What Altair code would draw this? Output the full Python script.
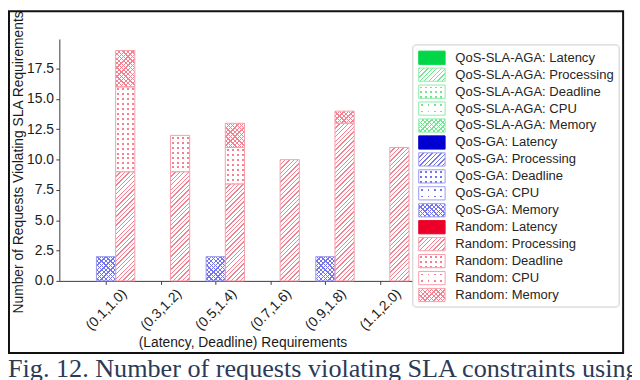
import altair as alt

# ---------------- data ----------------
categories = ["(0.1,1.0)", "(0.3,1.2)", "(0.5,1.4)", "(0.7,1.6)", "(0.9,1.8)", "(1.1,2.0)"]
models = ["QoS-SLA-AGA", "QoS-GA", "Random"]
req_types = ["Latency", "Processing", "Deadline", "CPU", "Memory"]

aga_latency = [0, 0, 0, 0, 0, 0]
aga_processing = [0, 0, 0, 0, 0, 0]
aga_deadline = [0, 0, 0, 0, 0, 0]
aga_cpu = [0, 0, 0, 0, 0, 0]
aga_memory = [0, 0, 0, 0, 0, 0]

ga_latency = [0, 0, 0, 0, 0, 0]
ga_processing = [0, 0, 0, 0, 0, 0]
ga_deadline = [0, 0, 0, 0, 0, 0]
ga_cpu = [0, 0, 0, 0, 0, 0]
ga_memory = [2, 0, 2, 0, 2, 0]

rnd_latency = [0, 0, 0, 0, 0, 0]
rnd_processing = [9, 9, 8, 10, 13, 11]
rnd_deadline = [7, 3, 3, 0, 0, 0]
rnd_cpu = [0, 0, 0, 0, 0, 0]
rnd_memory = [3, 0, 2, 0, 1, 0]

y_ticks = [0, 2.5, 5, 7.5, 10, 12.5, 15, 17.5]
x_title = "(Latency, Deadline) Requirements"
y_title = "Number of Requests Violating SLA Requirements"
caption = "Fig. 12. Number of requests violating SLA constraints using"

series = {
    "QoS-SLA-AGA": [aga_latency, aga_processing, aga_deadline, aga_cpu, aga_memory],
    "QoS-GA": [ga_latency, ga_processing, ga_deadline, ga_cpu, ga_memory],
    "Random": [rnd_latency, rnd_processing, rnd_deadline, rnd_cpu, rnd_memory],
}

# ---------------- styles ----------------
solid_color = {"QoS-SLA-AGA": "#00d647", "QoS-GA": "#0000d2", "Random": "#ea0029"}
hatch_color = {"QoS-SLA-AGA": "#6fe68f", "QoS-GA": "#7474ee", "Random": "#f5808f"}
edge_color = {"QoS-SLA-AGA": "#8eeca7", "QoS-GA": "#9a9af2", "Random": "#f7a0ac"}
WHITE = "#ffffff"
CLEAR = "rgba(255,255,255,0)"
TINY = 0.000001  # a zero gradient end-point would be replaced by the default

W, H = 371, 245
X_DOMAIN = [-0.8516, 5.8284]
Y_DOMAIN = [0, 19.95]
BAR = 0.35
PX_X = W / (X_DOMAIN[1] - X_DOMAIN[0])
PX_Y = H / (Y_DOMAIN[1] - Y_DOMAIN[0])


# ---------------- hatch patterns as linear gradients ----------------
def bands(L, period, lw, line, bg, phase=0.0):
    segs = []
    s = phase - period
    while s < L:
        for a, b, col in ((s, s + lw, line), (s + lw, s + period, bg)):
            a2, b2 = max(a, 0.0), min(b, L)
            if b2 > a2:
                segs.append((a2, b2, col))
        s += period
    stops = []
    for a, b, col in segs:
        stops.append({"offset": round(a / L, 5), "color": col})
        stops.append({"offset": round(b / L, 5), "color": col})
    return stops


def grad(x1, y1, x2, y2, stops):
    return {"gradient": "linear", "x1": x1, "y1": y1, "x2": x2, "y2": y2, "stops": stops}


def diag_up(w, h, period, lw, line, bg):
    L = w + h
    a = L * w / (w * w + h * h)
    return grad(0, 0, a, a * h / w, bands(L, period, lw, line, bg))


def diag_down(w, h, period, lw, line, bg):
    L = w + h
    a = L * w / (w * w + h * h)
    return grad(0, 1, a, 1 - a * h / w, bands(L, period, lw, line, bg, period / 2))


def horiz(w, h, period, lw, line, bg):
    return grad(0, 0, TINY, 1, bands(h, period, lw, line, bg, period / 2 - lw / 2))


def vert(w, h, period, lw, line, bg):
    return grad(0, 0, 1, 0, bands(w, period, lw, line, bg, period / 2 - lw / 2))


def pattern(model, kind, w, h):
    c = hatch_color[model]
    if kind == "Latency":
        return solid_color[model], CLEAR, solid_color[model]
    if kind == "Processing":
        return diag_up(w, h, 4.5, 1.4, c, WHITE), CLEAR, edge_color[model]
    if kind == "Deadline":
        return horiz(w, h, 5.0, 2.0, c, WHITE), vert(w, h, 5.0, 2.0, CLEAR, WHITE), edge_color[model]
    if kind == "CPU":
        return horiz(w, h, 6.5, 1.5, c, WHITE), vert(w, h, 6.5, 1.5, CLEAR, WHITE), edge_color[model]
    return diag_up(w, h, 4.5, 1.3, c, WHITE), diag_down(w, h, 4.5, 1.3, c, CLEAR), edge_color[model]


# ---------------- bar table ----------------
bar_rows = []
for mi, m in enumerate(models):
    for ci, _ in enumerate(categories):
        base = 0
        for ti, t in enumerate(req_types):
            v = series[m][ti][ci]
            if v > 0:
                center = ci + (mi - 1) * BAR
                g1, g2, edge = pattern(m, t, BAR * PX_X, v * PX_Y)
                bar_rows.append({
                    "xa": center - BAR / 2, "xb": center + BAR / 2,
                    "y0": base, "y1": base + v,
                    "g1": g1, "g2": g2, "edge": edge,
                })
            base += v

# ---------------- legend table ----------------
SW_W, SW_H = 26.7, 13.4
leg_rows = []
for mi, m in enumerate(models):
    for ti, t in enumerate(req_types):
        li = mi * len(req_types) + ti
        g1, g2, edge = pattern(m, t, SW_W, SW_H)
        leg_rows.append({"li": li, "ya": li - 0.39, "yb": li + 0.39,
                         "label": f"{m}: {t}", "g1": g1, "g2": g2, "edge": edge})

label_expr = "[" + ",".join(f"'{c}'" for c in categories) + "][datum.value]"

x_scale = alt.Scale(domain=X_DOMAIN, nice=False, zero=False)
y_scale = alt.Scale(domain=Y_DOMAIN, nice=False, zero=False)

x_axis = alt.Axis(
    values=list(range(len(categories))), labelExpr=label_expr,
    labelAngle=-45, labelAlign="center", labelBaseline="middle",
    labelPadding=25.5, tickSize=3.5, labelOverlap=False, labelFlush=False,
    title=x_title, titleY=66, titleBaseline="alphabetic", orient="bottom")
y_axis = alt.Axis(
    values=y_ticks, tickCount=len(y_ticks), format=".1f", tickSize=3.5, labelPadding=2.5,
    labelOverlap=False, labelFlush=False,
    title=y_title, titleX=-37.5, titleY=124.5, titleBaseline="alphabetic",
    titleAlign="center", orient="left")

bar_data = alt.Data(values=bar_rows)

bars_base = alt.Chart(bar_data).mark_rect().encode(
    x=alt.X("xa:Q", scale=x_scale, axis=x_axis),
    x2="xb:Q",
    y=alt.Y("y0:Q", scale=y_scale, axis=y_axis),
    y2="y1:Q",
    fill=alt.Fill("g1:N", scale=None),
)

bars_over = alt.Chart(bar_data).mark_rect(strokeWidth=1).encode(
    x=alt.X("xa:Q", scale=x_scale, axis=x_axis),
    x2="xb:Q",
    y=alt.Y("y0:Q", scale=y_scale, axis=None),
    y2="y1:Q",
    fill=alt.Fill("g2:N", scale=None),
    stroke=alt.Stroke("edge:N", scale=None),
)

one = alt.Data(values=[{}])
leg_data = alt.Data(values=leg_rows)
leg_scale = alt.Scale(domain=[0, 14], range=[19, 259.3], nice=False, zero=False)

leg_frame = alt.Chart(one).mark_rect(fill="white", stroke="#cccccc", strokeWidth=1,
                                     cornerRadius=3).encode(
    x=alt.value(358), x2=alt.value(567), y=alt.value(6), y2=alt.value(271.5))

leg_sw1 = alt.Chart(leg_data).mark_rect().encode(
    x=alt.value(364), x2=alt.value(390.7),
    y=alt.Y("ya:Q", scale=leg_scale, axis=None), y2="yb:Q",
    fill=alt.Fill("g1:N", scale=None))

leg_sw2 = alt.Chart(leg_data).mark_rect(strokeWidth=1).encode(
    x=alt.value(364), x2=alt.value(390.7),
    y=alt.Y("ya:Q", scale=leg_scale, axis=None), y2="yb:Q",
    fill=alt.Fill("g2:N", scale=None),
    stroke=alt.Stroke("edge:N", scale=None))

leg_text = alt.Chart(leg_data).mark_text(
    align="left", baseline="middle", font="Liberation Sans", fontSize=13.2,
    color="#262626").encode(
    x=alt.value(401), y=alt.Y("li:Q", scale=leg_scale, axis=None), text="label:N")

frame = alt.Chart(one).mark_rect(filled=False, stroke="#111111", strokeWidth=2).encode(
    x=alt.value(-51), x2=alt.value(571), y=alt.value(-28), y2=alt.value(318))

cap = alt.Chart(one).mark_text(
    text=caption, align="left", baseline="alphabetic", font="Liberation Serif",
    fontSize=26.5, color="#2b3a57").encode(x=alt.value(-52), y=alt.value(342))

chart = alt.layer(
    frame, bars_base, bars_over, leg_frame, leg_sw1, leg_sw2, leg_text, cap
).resolve_scale(y="independent").properties(
    width=W, height=H,
    autosize=alt.AutoSizeParams(type="none"),
    padding={"left": 52, "top": 29, "right": 209, "bottom": 98},
).configure_view(strokeWidth=0).configure_axis(
    domainColor="#3a3a3a", tickColor="#3a3a3a", labelColor="#1a1a1a",
    titleColor="#1a1a1a", labelFont="Liberation Sans", titleFont="Liberation Sans",
    labelFontSize=14, titleFontSize=14, titleFontWeight="normal", grid=False,
    domainWidth=1, tickWidth=1)

chart.save("out.html", embed_options={"renderer": "svg", "actions": False})
